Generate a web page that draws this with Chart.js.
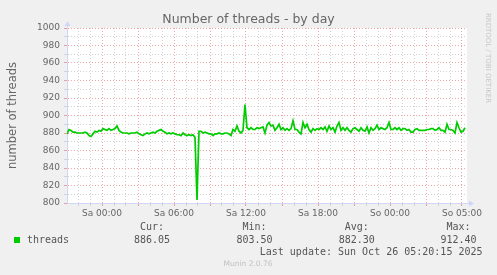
<!DOCTYPE html>
<html>
<head>
<meta charset="utf-8">
<script src="https://cdn.jsdelivr.net/npm/chart.js@4/dist/chart.umd.min.js"></script>
<style>
  html, body { margin: 0; padding: 0; background: #f0f0f0; }
  canvas { display: block; }
</style>
</head>
<body>
<canvas id="threadsChart" width="497" height="275"></canvas>
<script>
// --- Data (one value every 10 min) ---
const startHour = -35 / 12;   // hours relative to Sa 00:00
const stepHour = 1 / 6;       // 10 minutes
const threads = [
  879, 884, 883, 881, 881, 880, 880, 880, 880, 881,
  880, 877, 876, 879, 882, 881, 883, 882, 885, 884,
  883, 885, 883, 884, 885, 888, 883, 881, 880, 880,
  880, 879, 880, 880, 880, 881, 879, 878, 877, 879,
  880, 879, 880, 881, 880, 882, 883, 884, 882, 881,
  879, 880, 879, 880, 879, 878, 878, 877, 880, 878,
  877, 878, 877, 878, 875, 803.5, 882, 882, 880, 881,
  880, 879, 879, 877, 879, 879, 880, 879, 879, 880,
  880, 879, 877, 884, 882, 888, 882, 880, 883, 912.4,
  886, 884, 886, 884, 884, 886, 885, 886, 887, 880,
  889, 892, 888, 889, 883, 886, 890, 884, 886, 883,
  885, 883, 885, 894, 884, 884, 881, 879, 892, 886,
  890, 884, 881, 885, 883, 885, 884, 886, 884, 887,
  882, 888, 884, 886, 881, 888, 892, 883, 886, 883,
  886, 883, 881, 885, 886, 884, 882, 886, 883, 882,
  887, 880, 886, 883, 885, 889, 884, 886, 885, 884,
  886, 892, 884, 884, 886, 884, 886, 883, 885, 885,
  883, 884, 881, 881, 884, 885, 883, 883, 883, 883,
  884, 884, 885, 885, 883, 884, 886, 883, 883, 881,
  890, 884, 884, 883, 880, 892, 886, 881, 882, 886
];

const xMin = -35 / 12;
const xMax = 365 / 12;
const xTickHours = [0, 6, 12, 18, 24, 30];
const xTickLabels = ['Sa 00:00', 'Sa 06:00', 'Sa 12:00', 'Sa 18:00', 'So 00:00', 'So 05:00'];
const yMin = 800;
const yMax = 1000;

const statLabels = ['Cur:', 'Min:', 'Avg:', 'Max:'];
const statValues = ['886.05', '803.50', '882.30', '912.40'];

const title = 'Number of threads - by day';
const yTitle = 'number of threads';
const lastUpdate = 'Last update: Sun Oct 26 05:20:15 2025';
const watermark = 'Munin 2.0.76';
const sideNote = 'RRDTOOL / TOBI OETIKER';

// --- Colours ---
const lineColor = '#00cc00';
const gridMinor = '#d2d2d2';
const gridMajor = 'rgba(222,79,79,0.5)';
const axisColor = '#cfd6f8';
const fontColor = '#666666';

const points = threads.map((v, i) => ({ x: startHour + i * stepHour, y: v }));

const hourTicks = [];
for (let h = Math.ceil(xMin); h <= Math.floor(xMax); h++) hourTicks.push({ value: h });
const yTicks = [];
for (let v = yMin; v <= yMax; v += 10) yTicks.push({ value: v });

// --- Background, arrows, titles, legend ---
const muninDecor = {
  id: 'muninDecor',
  beforeDraw(chart) {
    const { ctx, chartArea: a } = chart;
    ctx.save();
    ctx.fillStyle = '#f0f0f0';
    ctx.fillRect(0, 0, chart.width, chart.height);
    ctx.fillStyle = '#ffffff';
    ctx.fillRect(a.left, a.top, a.right - a.left, a.bottom - a.top);
    ctx.restore();
  },
  afterDraw(chart) {
    const { ctx, chartArea: a } = chart;
    const cx = chart.width / 2;
    ctx.save();

    // axis arrows
    ctx.fillStyle = axisColor;
    ctx.strokeStyle = axisColor;
    ctx.lineWidth = 1;
    ctx.beginPath();
    ctx.moveTo(a.left + 0.5, a.top);
    ctx.lineTo(a.left + 0.5, a.top - 4);
    ctx.stroke();
    ctx.beginPath();
    ctx.moveTo(a.left - 2.5, a.top - 2);
    ctx.lineTo(a.left + 3.5, a.top - 2);
    ctx.lineTo(a.left + 0.5, a.top - 7);
    ctx.closePath();
    ctx.fill();
    ctx.beginPath();
    ctx.moveTo(a.right, a.bottom + 0.5);
    ctx.lineTo(a.right + 4, a.bottom + 0.5);
    ctx.stroke();
    ctx.beginPath();
    ctx.moveTo(a.right + 2, a.bottom - 2.5);
    ctx.lineTo(a.right + 2, a.bottom + 3.5);
    ctx.lineTo(a.right + 7, a.bottom + 0.5);
    ctx.closePath();
    ctx.fill();

    // title
    ctx.fillStyle = fontColor;
    ctx.font = '12.5px "DejaVu Sans"';
    ctx.textAlign = 'center';
    ctx.textBaseline = 'alphabetic';
    ctx.fillText(title, cx, 23);

    // y axis title
    ctx.save();
    ctx.translate(15.5, (a.top + a.bottom) / 2);
    ctx.rotate(-Math.PI / 2);
    ctx.font = '11.5px "DejaVu Sans"';
    ctx.fillText(yTitle, 0, 0);
    ctx.restore();

    // side note
    ctx.save();
    ctx.translate(488, 58);
    ctx.rotate(Math.PI / 2);
    ctx.fillStyle = '#c8c8c8';
    ctx.font = '7px "DejaVu Sans"';
    ctx.textBaseline = 'middle';
    ctx.fillText(sideNote, 0, 0);
    ctx.restore();

    // legend
    ctx.fillStyle = lineColor;
    ctx.fillRect(14, 237, 6, 6);
    ctx.fillStyle = '#555555';
    ctx.font = '10px "DejaVu Sans Mono"';
    ctx.textBaseline = 'middle';
    ctx.textAlign = 'left';
    ctx.fillText('threads', 27, 240);
    const statX = [152, 254.5, 356.7, 458.5];
    ctx.textAlign = 'center';
    statLabels.forEach((s, i) => {
      ctx.fillText(s, statX[i], 227.5);
      ctx.fillText(statValues[i], statX[i], 240);
    });
    ctx.textAlign = 'right';
    ctx.fillText(lastUpdate, 482.5, 252);

    // watermark
    ctx.fillStyle = '#c0c0c0';
    ctx.font = '7.5px "DejaVu Sans"';
    ctx.textAlign = 'center';
    ctx.fillText(watermark, 248, 264);
    ctx.restore();
  }
};

const ctx = document.getElementById('threadsChart').getContext('2d');

const chart = new Chart(ctx, {
  type: 'line',
  data: {
    datasets: [{
      label: 'threads',
      data: points,
      borderColor: lineColor,
      borderWidth: 1.7,
      pointRadius: 0,
      tension: 0,
      fill: false
    }]
  },
  options: {
    responsive: false,
    animation: false,
    devicePixelRatio: 1,
    layout: { padding: { top: 28, right: 30, bottom: 52, left: 0 } },
    plugins: {
      legend: { display: false },
      title: { display: false },
      tooltip: { enabled: false }
    },
    scales: {
      x: {
        type: 'linear',
        min: xMin,
        max: xMax,
        afterBuildTicks: s => { s.ticks = hourTicks.map(t => ({ value: t.value })); },
        afterFit: s => { s.height = 20; },
        ticks: {
          autoSkip: false,
          maxRotation: 0,
          padding: 2,
          color: fontColor,
          font: { family: 'DejaVu Sans', size: 9 },
          callback: v => {
            const i = xTickHours.indexOf(v);
            return i >= 0 ? xTickLabels[i] : '';
          }
        },
        grid: {
          color: c => (c.tick && c.tick.value % 3 === 0) ? gridMajor : gridMinor,
          lineWidth: 1,
          tickLength: 3
        },
        border: { color: axisColor, dash: [1, 2] }
      },
      y: {
        min: yMin,
        max: yMax,
        afterBuildTicks: s => { s.ticks = yTicks.map(t => ({ value: t.value })); },
        afterFit: s => { s.width = 67; },
        ticks: {
          autoSkip: false,
          padding: 4,
          color: fontColor,
          font: { family: 'DejaVu Sans', size: 9 },
          callback: v => (v % 20 === 0 ? String(v) : '')
        },
        grid: {
          color: c => (c.tick && c.tick.value % 20 === 0) ? gridMajor : gridMinor,
          lineWidth: 1,
          tickLength: 3
        },
        border: { color: axisColor, dash: [1, 2] }
      }
    }
  },
  plugins: [muninDecor]
});
</script>
</body>
</html>
